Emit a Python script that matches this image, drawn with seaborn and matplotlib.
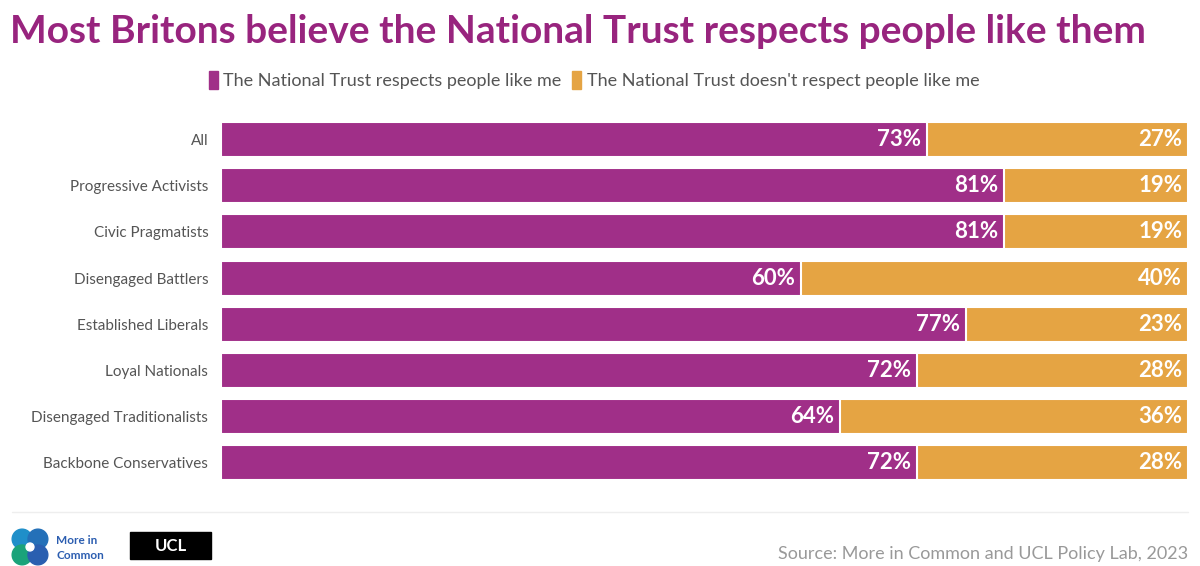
import matplotlib
matplotlib.use("Agg")
import matplotlib.pyplot as plt
import matplotlib.patches as mpatches
import seaborn as sns
import pandas as pd

# data
segments = ["All", "Progressive Activists", "Civic Pragmatists", "Disengaged Battlers",
            "Established Liberals", "Loyal Nationals", "Disengaged Traditionalists",
            "Backbone Conservatives"]
respects = [73, 81, 81, 60, 77, 72, 64, 72]
doesnt_respect = [27, 19, 19, 40, 23, 28, 36, 28]

purple = "#a02f88"
orange = "#e5a443"
title_col = "#98247e"

df = pd.DataFrame({"segment": segments, "yes": respects, "no": doesnt_respect})
df["total"] = df["yes"] + df["no"]

sns.set_style("white")
plt.rcParams['font.family'] = ['Lato', 'DejaVu Sans']

fig = plt.figure(figsize=(12, 5.66), dpi=100)
ax = fig.add_axes([0.184, 0.138, 0.806, 0.66])

# orange full-length bar underneath, purple on top
sns.barplot(data=df, y="segment", x="total", color=orange, width=0.76,
            edgecolor="white", linewidth=1.5, saturation=1, ax=ax)
sns.barplot(data=df, y="segment", x="yes", color=purple, width=0.76,
            edgecolor="white", linewidth=1.5, saturation=1, ax=ax)

for i, (y, n) in enumerate(zip(respects, doesnt_respect)):
    ax.text(y - 0.6, i, f"{y}%", ha="right", va="center", color="white",
            fontsize=16, fontweight="bold")
    ax.text(y + n - 0.6, i, f"{n}%", ha="right", va="center", color="white",
            fontsize=16, fontweight="bold")

ax.set_xlim(0, 100)
ax.set_ylim(7.55, -0.55)
ax.set_xlabel("")
ax.set_ylabel("")
ax.set_xticks([])
ax.tick_params(axis="y", length=0, pad=9, labelsize=11, labelcolor="#555555")
sns.despine(ax=ax, left=True, bottom=True)

fig.text(0.008, 0.945, "Most Britons believe the National Trust respects people like them",
         fontsize=28, fontweight="bold", color=title_col, va="center", ha="left")

handles = [mpatches.Patch(color=purple, label="The National Trust respects people like me"),
           mpatches.Patch(color=orange, label="The National Trust doesn't respect people like me")]
fig.legend(handles=handles, loc="center", bbox_to_anchor=(0.495, 0.858), ncol=2,
           frameon=False, fontsize=13, handlelength=0.5, handleheight=1.1,
           handletextpad=0.3, columnspacing=0.6, labelcolor="#555555")

# separator line and footer
fig.add_artist(plt.Line2D([0.01, 0.99], [0.095, 0.095], color="#eeeeee", lw=1))
fig.text(0.99, 0.022, "Source: More in Common and UCL Policy Lab, 2023",
         ha="right", va="center", fontsize=13, color="#999999")

# simple logo stand-ins
lax = fig.add_axes([0.008, 0.0, 0.034, 0.07])
lax.set_xlim(0, 1)
lax.set_ylim(0, 1)
lax.set_aspect("equal")
lax.axis("off")
for cx, cy, c in [(0.3, 0.68, "#1f8fc9"), (0.7, 0.68, "#2470b8"),
                  (0.3, 0.28, "#1aa37a"), (0.7, 0.28, "#2a5fb0")]:
    lax.add_patch(mpatches.Circle((cx, cy), 0.25, color=c))
lax.add_patch(mpatches.Circle((0.5, 0.48), 0.1, color="white"))
fig.text(0.047, 0.045, "More in", fontsize=8.5, color="#2b5db0", fontweight="bold", va="center")
fig.text(0.047, 0.018, "Common", fontsize=8.5, color="#2b5db0", fontweight="bold", va="center")
fig.add_artist(mpatches.Rectangle((0.108, 0.012), 0.068, 0.048,
                                  transform=fig.transFigure, color="black"))
fig.text(0.142, 0.036, "UCL", fontsize=12, color="white", fontweight="bold",
         ha="center", va="center")

fig.savefig("out.png", dpi=100, facecolor="white")
